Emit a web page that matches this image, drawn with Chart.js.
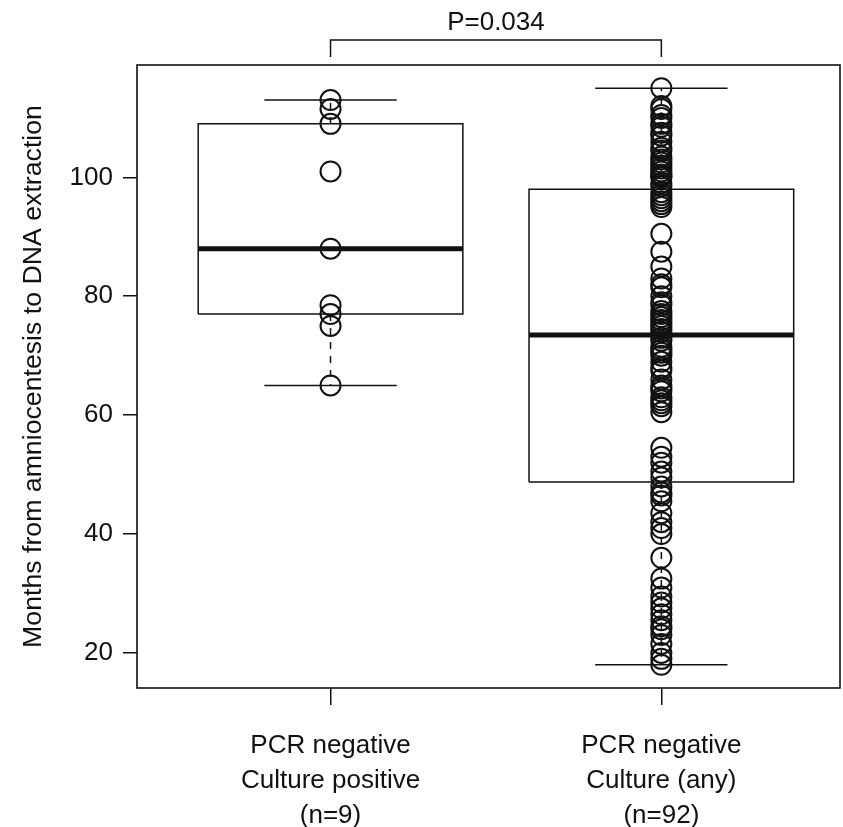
<!DOCTYPE html>
<html>
<head>
<meta charset="utf-8">
<script src="https://cdn.jsdelivr.net/npm/chart.js@4.4.1/dist/chart.umd.min.js"></script>
<style>
  html, body { margin: 0; padding: 0; background: #fff; }
  canvas { display: block; }
</style>
</head>
<body>
<canvas id="myChart" width="843" height="827"></canvas>
<script>
// values (months)
var groupPositions = [1, 2];
var xLabels = [
    ["PCR negative", "Culture positive", "(n=9)"],
    ["PCR negative", "Culture (any)", "(n=92)"]
];
var culturePositive = [65, 75, 77, 78.5, 88, 101, 109, 111.5, 113];
var cultureAny = [
    18, 19, 20, 21.5, 23, 24, 24.5, 25.5, 26.5, 27.5, 28.5, 29.5, 31, 32.5, 36, 40, 41, 42, 43.5, 45.5, 46.5, 47, 48, 49.5,
    50.5, 52, 53, 54.5, 60.5, 61.5, 62, 62.5, 63, 64, 64.5, 65, 66, 67.5, 68, 69, 70, 70.5, 71, 71.5, 72.5, 73,
    74, 74.5, 75, 75.5, 76, 76.5, 77, 77.5, 78.5, 79, 80, 81.5, 82, 83, 85, 87.5, 90.5, 95, 95.5, 96, 96.5, 97, 97.5,
    98.5, 99, 100, 100.2, 100.5, 101, 101.5, 102, 102.5, 103, 103.5, 104.5, 105, 106, 107, 107.5, 108.5, 109, 110, 110.5, 111.5, 112, 115
];
var yTicks = [20, 40, 60, 80, 100];
var yTitle = "Months from amniocentesis to DNA extraction";
var pLabel = "P=0.034";

var FONT = '"Liberation Sans", Arial, sans-serif';
var INK = "#111";

// Tukey hinges like R's fivenum
function fivenum(v) {
    var s = v.slice().sort(function (a, b) { return a - b; });
    var n = s.length;
    var n4 = Math.floor((n + 3) / 2) / 2;
    var d = [1, n4, (n + 1) / 2, n + 1 - n4, n];
    return d.map(function (i) {
        return 0.5 * (s[Math.floor(i) - 1] + s[Math.ceil(i) - 1]);
    });
}

function boxStats(v) {
    var f = fivenum(v);
    var iqr = f[3] - f[1];
    var inside = v.filter(function (x) { return x >= f[1] - 1.5 * iqr && x <= f[3] + 1.5 * iqr; });
    return {
        lo: Math.min.apply(null, inside),
        q1: f[1],
        med: f[2],
        q3: f[3],
        hi: Math.max.apply(null, inside)
    };
}

function lineSet(points, width, dash) {
    return {
        data: points,
        showLine: true,
        borderColor: INK,
        borderWidth: width,
        borderDash: dash || [],
        pointRadius: 0,
        fill: false,
        tension: 0
    };
}

var datasets = [];
[culturePositive, cultureAny].forEach(function (vals, i) {
    var p = groupPositions[i];
    var st = boxStats(vals);
    var bw = 0.4, cw = 0.2;
    // box
    datasets.push(lineSet([
        {x: p - bw, y: st.q1}, {x: p + bw, y: st.q1}, {x: p + bw, y: st.q3},
        {x: p - bw, y: st.q3}, {x: p - bw, y: st.q1}
    ], 1.5));
    // whiskers (dashed) and caps
    datasets.push(lineSet([{x: p, y: st.q3}, {x: p, y: st.hi}], 1.5, [7, 7]));
    datasets.push(lineSet([{x: p, y: st.q1}, {x: p, y: st.lo}], 1.5, [7, 7]));
    datasets.push(lineSet([{x: p - cw, y: st.hi}, {x: p + cw, y: st.hi}], 1.5));
    datasets.push(lineSet([{x: p - cw, y: st.lo}, {x: p + cw, y: st.lo}], 1.5));
    // median
    datasets.push(lineSet([{x: p - bw, y: st.med}, {x: p + bw, y: st.med}], 5));
});
[culturePositive, cultureAny].forEach(function (vals, i) {
    datasets.push({
        data: vals.map(function (v) { return {x: groupPositions[i], y: v}; }),
        showLine: false,
        pointStyle: "circle",
        pointRadius: 10,
        pointBorderWidth: 2,
        pointBorderColor: INK,
        pointBackgroundColor: "rgba(0,0,0,0)"
    });
});

// frame around the plot plus the significance bracket
var framePlugin = {
    id: "frame",
    afterDatasetsDraw: function (chart) {
        var ctx = chart.ctx;
        var a = chart.chartArea;
        var xs = chart.scales.x;
        ctx.save();
        ctx.strokeStyle = INK;
        ctx.lineWidth = 1.6;
        ctx.strokeRect(a.left, a.top, a.right - a.left, a.bottom - a.top);

        var x1 = xs.getPixelForValue(groupPositions[0]);
        var x2 = xs.getPixelForValue(groupPositions[1]);
        ctx.lineWidth = 1.5;
        ctx.beginPath();
        ctx.moveTo(x1, a.top - 8);
        ctx.lineTo(x1, a.top - 25);
        ctx.lineTo(x2, a.top - 25);
        ctx.lineTo(x2, a.top - 8);
        ctx.stroke();
        ctx.fillStyle = INK;
        ctx.font = "26px " + FONT;
        ctx.textAlign = "center";
        ctx.textBaseline = "middle";
        ctx.fillText(pLabel, (x1 + x2) / 2, a.top - 42);
        ctx.restore();
    }
};

var config = {
    type: "scatter",
    data: { datasets: datasets },
    options: {
        responsive: false,
        animation: false,
        devicePixelRatio: 1,
        layout: { autoPadding: false, padding: { top: 65, right: 3, left: 0, bottom: 0 } },
        plugins: {
            legend: { display: false },
            tooltip: { enabled: false }
        },
        scales: {
            x: {
                type: "linear",
                min: 0.415,
                max: 2.54,
                afterBuildTicks: function (scale) {
                    scale.ticks = groupPositions.map(function (v) { return {value: v}; });
                },
                afterFit: function (scale) {
                    scale.height = 139;
                    scale.paddingLeft = 0;
                    scale.paddingRight = 0;
                },
                grid: { drawOnChartArea: false, drawTicks: true, tickLength: 17, tickColor: INK, lineWidth: 1.5 },
                border: { display: false },
                ticks: {
                    padding: 23,
                    autoSkip: false,
                    maxRotation: 0,
                    color: INK,
                    font: { family: FONT, size: 26, lineHeight: 1.35 },
                    callback: function (value) { return xLabels[groupPositions.indexOf(value)]; }
                }
            },
            y: {
                min: 14.1,
                max: 118.9,
                afterBuildTicks: function (scale) {
                    scale.ticks = yTicks.map(function (v) { return {value: v}; });
                },
                afterFit: function (scale) { scale.width = 137; },
                grid: { drawOnChartArea: false, drawTicks: true, tickLength: 14, tickColor: INK, lineWidth: 1.5 },
                border: { display: false },
                ticks: {
                    padding: 10,
                    color: INK,
                    font: { family: FONT, size: 26 }
                },
                title: {
                    display: true,
                    text: yTitle,
                    color: INK,
                    font: { family: FONT, size: 26.7 },
                    padding: { top: 18, bottom: 0 }
                }
            }
        }
    },
    plugins: [framePlugin]
};

var myChart = new Chart(document.getElementById("myChart"), config);
</script>
</body>
</html>
